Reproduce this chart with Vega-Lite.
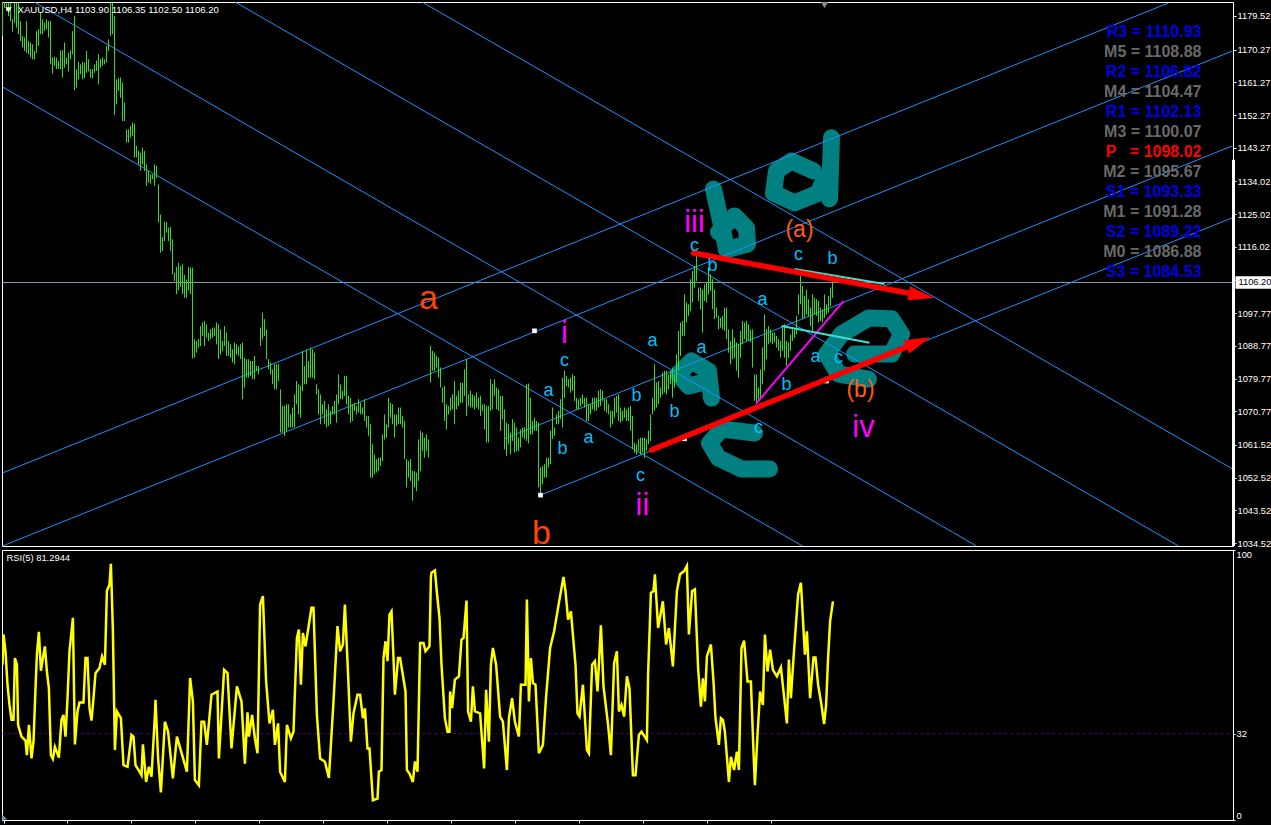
{"$schema":"https://vega.github.io/schema/vega-lite/v6.json","background":"#000000","padding":{"left":1,"top":1,"right":0,"bottom":0},"spacing":0,"config":{"view":{"stroke":"#ffffff","strokeWidth":1},"axis":{"grid":false,"title":null,"labelColor":"#ffffff","domain":false,"tickColor":"#ffffff","labelFont":"Liberation Sans","labelFontSize":9.3},"text":{"font":"Liberation Sans"}},
"datasets":{"bars":[
{"i":0,"p":1183.3,"l":1174},{"i":1,"p":1183.3,"l":1181.8},{"i":2,"p":1183.3,"l":1180.9},{"i":3,"p":1183.2,"l":1179.5},{"i":4,"p":1183.2,"l":1178.1},{"i":5,"p":1178.6,"l":1175.2},{"i":6,"p":1183.2,"l":1177.7},{"i":7,"p":1183.2,"l":1176.3},{"i":8,"p":1183.2,"l":1174.5},{"i":9,"p":1178.1,"l":1172.6},{"i":10,"p":1174,"l":1170.8},{"i":11,"p":1173.6,"l":1169.9},{"i":12,"p":1178.1,"l":1169.4},{"i":13,"p":1172.6,"l":1169},{"i":14,"p":1172.2,"l":1168.1},{"i":15,"p":1171.7,"l":1167.6},{"i":16,"p":1169.9,"l":1167.6},{"i":17,"p":1175.4,"l":1169.4},{"i":18,"p":1175.9,"l":1171.3},{"i":19,"p":1180.4,"l":1174.5},{"i":20,"p":1178.6,"l":1174.5},{"i":21,"p":1177.7,"l":1175.4},{"i":22,"p":1178.6,"l":1175.9},{"i":23,"p":1178.1,"l":1173.6},{"i":24,"p":1178.1,"l":1166.2},{"i":25,"p":1168.1,"l":1163.7},{"i":26,"p":1168.3,"l":1165.8},{"i":27,"p":1168.1,"l":1164.9},{"i":28,"p":1167.1,"l":1164.9},{"i":29,"p":1170.1,"l":1164.9},{"i":30,"p":1170.1,"l":1162.6},{"i":31,"p":1172.2,"l":1165.3},{"i":32,"p":1168.1,"l":1166.2},{"i":33,"p":1169.4,"l":1164.2},{"i":34,"p":1170.1,"l":1167.6},{"i":35,"p":1175.4,"l":1169},{"i":36,"p":1179.5,"l":1159.1},{"i":37,"p":1164.9,"l":1159.8},{"i":38,"p":1166.9,"l":1162.1},{"i":39,"p":1166.2,"l":1163.5},{"i":40,"p":1166.9,"l":1162.1},{"i":41,"p":1166.7,"l":1162.4},{"i":42,"p":1169.9,"l":1163.9},{"i":43,"p":1167.6,"l":1164.2},{"i":44,"p":1164.9,"l":1162.6},{"i":45,"p":1164.9,"l":1162.4},{"i":46,"p":1166.2,"l":1163.9},{"i":47,"p":1167.3,"l":1164.4},{"i":48,"p":1169,"l":1160.7},{"i":49,"p":1167.6,"l":1165.3},{"i":50,"p":1168.1,"l":1165.8},{"i":51,"p":1167.6,"l":1166.2},{"i":52,"p":1171.3,"l":1166.7},{"i":53,"p":1173.1,"l":1169.9},{"i":54,"p":1183.3,"l":1174},{"i":55,"p":1183.2,"l":1174.5},{"i":56,"p":1179.5,"l":1152.3},{"i":57,"p":1162.1,"l":1155.2},{"i":58,"p":1162.4,"l":1158.9},{"i":59,"p":1162.6,"l":1157},{"i":60,"p":1161.2,"l":1150.6},{"i":61,"p":1155.7,"l":1150.6},{"i":62,"p":1148.3,"l":1144.7},{"i":63,"p":1148.3,"l":1144.7},{"i":64,"p":1149.3,"l":1146.1},{"i":65,"p":1150.2,"l":1146.5},{"i":66,"p":1149.9,"l":1140.6},{"i":67,"p":1143.8,"l":1140.6},{"i":68,"p":1142.4,"l":1138.7},{"i":69,"p":1141.9,"l":1136.9},{"i":70,"p":1143.3,"l":1138.7},{"i":71,"p":1142.4,"l":1136.9},{"i":72,"p":1138.7,"l":1132.8},{"i":73,"p":1136.9,"l":1133.7},{"i":74,"p":1136,"l":1133.4},{"i":75,"p":1136,"l":1134.6},{"i":76,"p":1138.7,"l":1132.8},{"i":77,"p":1138.3,"l":1135},{"i":78,"p":1133.2,"l":1122.7},{"i":79,"p":1124.9,"l":1114.4},{"i":80,"p":1118.7,"l":1114.9},{"i":81,"p":1122.9,"l":1117.6},{"i":82,"p":1122.9,"l":1119.9},{"i":83,"p":1121.3,"l":1117.6},{"i":84,"p":1121.5,"l":1114.9},{"i":85,"p":1118.1,"l":1108.5},{"i":86,"p":1108.9,"l":1106.6},{"i":87,"p":1110.5,"l":1103},{"i":88,"p":1111.6,"l":1104},{"i":89,"p":1110.7,"l":1105},{"i":90,"p":1111.2,"l":1103},{"i":91,"p":1108.3,"l":1102},{"i":92,"p":1107,"l":1102},{"i":93,"p":1110.5,"l":1104},{"i":94,"p":1110.3,"l":1103},{"i":95,"p":1110.3,"l":1085.3},
{"i":96,"p":1090.6,"l":1085.5},{"i":97,"p":1090.1,"l":1086.9},{"i":98,"p":1090.6,"l":1088.3},{"i":99,"p":1094.2,"l":1088.7},{"i":100,"p":1095.2,"l":1091.5},{"i":101,"p":1095.6,"l":1088.7},{"i":102,"p":1094.7,"l":1091},{"i":103,"p":1092.4,"l":1090.1},{"i":104,"p":1093.3,"l":1090.6},{"i":105,"p":1093.8,"l":1091},{"i":106,"p":1093.8,"l":1091.5},{"i":107,"p":1095.2,"l":1089.2},{"i":108,"p":1094.7,"l":1085.1},{"i":109,"p":1093.3,"l":1086.4},{"i":110,"p":1090.1,"l":1087.4},{"i":111,"p":1094.2,"l":1088.7},{"i":112,"p":1092.4,"l":1086},{"i":113,"p":1090.1,"l":1086},{"i":114,"p":1089.2,"l":1085.5},{"i":115,"p":1087.8,"l":1084.2},{"i":116,"p":1089.7,"l":1083.7},{"i":117,"p":1089.2,"l":1086.4},{"i":118,"p":1088.7,"l":1086},{"i":119,"p":1089.2,"l":1085.1},{"i":120,"p":1089.7,"l":1074.1},{"i":121,"p":1085.5,"l":1077.3},{"i":122,"p":1085.1,"l":1080},{"i":123,"p":1085.1,"l":1080},{"i":124,"p":1084.6,"l":1080.5},{"i":125,"p":1084.6,"l":1079.6},{"i":126,"p":1086,"l":1079.6},{"i":127,"p":1083.2,"l":1081.9},{"i":128,"p":1083.2,"l":1080.9},{"i":129,"p":1093.8,"l":1088.7},{"i":130,"p":1097.9,"l":1090.6},{"i":131,"p":1096.1,"l":1091.5},{"i":132,"p":1093.3,"l":1085.1},{"i":133,"p":1085.1,"l":1082.3},{"i":134,"p":1084.2,"l":1080.9},{"i":135,"p":1082.3,"l":1078.2},{"i":136,"p":1083.7,"l":1076.8},{"i":137,"p":1083.7,"l":1076.8},{"i":138,"p":1083.7,"l":1079.1},{"i":139,"p":1076.8,"l":1064.9},{"i":140,"p":1072.2,"l":1064.9},{"i":141,"p":1072.2,"l":1064},{"i":142,"p":1072.7,"l":1065.3},{"i":143,"p":1072.7,"l":1066.3},{"i":144,"p":1069.9,"l":1066.3},{"i":145,"p":1071.8,"l":1066.3},{"i":146,"p":1075.4,"l":1066.3},{"i":147,"p":1079.1,"l":1072.7},{"i":148,"p":1078.2,"l":1069.9},{"i":149,"p":1077.7,"l":1069},{"i":150,"p":1087.4,"l":1076.4},{"i":151,"p":1083.2,"l":1078.2},{"i":152,"p":1087.8,"l":1078.2},{"i":153,"p":1084.6,"l":1080},{"i":154,"p":1088.3,"l":1080},{"i":155,"p":1087.8,"l":1080},{"i":156,"p":1086.9,"l":1079.6},{"i":157,"p":1078.2,"l":1075.4},{"i":158,"p":1076.8,"l":1069.9},{"i":159,"p":1075.4,"l":1067.2},{"i":160,"p":1072.7,"l":1069.9},{"i":161,"p":1073.6,"l":1067.2},{"i":162,"p":1071.3,"l":1066.3},{"i":163,"p":1072.7,"l":1066.7},{"i":164,"p":1070.9,"l":1067.2},{"i":165,"p":1072.2,"l":1069.9},{"i":166,"p":1073.6,"l":1069.9},{"i":167,"p":1075.4,"l":1067.6},{"i":168,"p":1080.9,"l":1072.7},{"i":169,"p":1078.2,"l":1074.1},{"i":170,"p":1076.4,"l":1074.1},{"i":171,"p":1080.5,"l":1075},{"i":172,"p":1080.5,"l":1072.7},{"i":173,"p":1075,"l":1069.9},{"i":174,"p":1074.5,"l":1067.6},{"i":175,"p":1072.7,"l":1068.1},{"i":176,"p":1073.1,"l":1070.9},{"i":177,"p":1072.2,"l":1069.9},{"i":178,"p":1074.1,"l":1070.4},{"i":179,"p":1073.1,"l":1069.9},{"i":180,"p":1071.8,"l":1069.9},{"i":181,"p":1074.1,"l":1068.1},{"i":182,"p":1069.5,"l":1066.3},{"i":183,"p":1069.5,"l":1064},{"i":184,"p":1067.2,"l":1052.5},{"i":185,"p":1061.7,"l":1052.5},{"i":186,"p":1058.9,"l":1053.4},{"i":187,"p":1057.6,"l":1053.9},{"i":188,"p":1058,"l":1054.3},{"i":189,"p":1058,"l":1055.7},{"i":190,"p":1064.4,"l":1057.1},{"i":191,"p":1069.9,"l":1063},{"i":192,"p":1067.2,"l":1063.5},{"i":193,"p":1074.5,"l":1066.3},{"i":194,"p":1073.1,"l":1069},{"i":195,"p":1072.7,"l":1067.2},{"i":196,"p":1069.9,"l":1063.5},{"i":197,"p":1069.9,"l":1066.7},{"i":198,"p":1071.8,"l":1067.2},{"i":199,"p":1071.8,"l":1067.2},{"i":200,"p":1069.5,"l":1066.3},{"i":201,"p":1068.1,"l":1057.6},{"i":202,"p":1057.6,"l":1049.8},{"i":203,"p":1057.1,"l":1052.5},{"i":204,"p":1057.6,"l":1051.6},{"i":205,"p":1054.3,"l":1046.1},{"i":206,"p":1054.3,"l":1049.8},{"i":207,"p":1053.9,"l":1048.8},{"i":208,"p":1063,"l":1051.6},{"i":209,"p":1065.4,"l":1054.3},{"i":210,"p":1064.9,"l":1059.8},{"i":211,"p":1063.5,"l":1058},{"i":212,"p":1064.4,"l":1059.8},{"i":213,"p":1063,"l":1058},{"i":214,"p":1088.7,"l":1078.7},{"i":215,"p":1087.4,"l":1081.9},{"i":216,"p":1086.9,"l":1081.9},{"i":217,"p":1086,"l":1082.8},{"i":218,"p":1085.5,"l":1080},{"i":219,"p":1082.8,"l":1077.3},{"i":220,"p":1077.3,"l":1073.1},{"i":221,"p":1077.7,"l":1068.1},{"i":222,"p":1072.7,"l":1065.8},{"i":223,"p":1072.2,"l":1069.9},{"i":224,"p":1074.5,"l":1070.9},{"i":225,"p":1075.4,"l":1071.3},{"i":226,"p":1079.1,"l":1067.2},{"i":227,"p":1075,"l":1071.3},{"i":228,"p":1076.4,"l":1072.2},{"i":229,"p":1078.6,"l":1073.1},{"i":230,"p":1078.6,"l":1073.1},{"i":231,"p":1082.3,"l":1075},{"i":232,"p":1085.1,"l":1069.5},{"i":233,"p":1075.4,"l":1072.2},{"i":234,"p":1076.4,"l":1071.8},{"i":235,"p":1075.4,"l":1071.8},{"i":236,"p":1075,"l":1071.3},{"i":237,"p":1075.9,"l":1071.8},{"i":238,"p":1074.5,"l":1071.3},{"i":239,"p":1075,"l":1069.5},{"i":240,"p":1072.7,"l":1070.9},{"i":241,"p":1072.7,"l":1065.8},{"i":242,"p":1072.2,"l":1062.2},{"i":243,"p":1072.2,"l":1062.2},{"i":244,"p":1079.6,"l":1070.9},{"i":245,"p":1078.2,"l":1071.3},{"i":246,"p":1079.6,"l":1075},{"i":247,"p":1077.3,"l":1071.3},{"i":248,"p":1076.8,"l":1070.9},{"i":249,"p":1075,"l":1065.4},{"i":250,"p":1075,"l":1068.6},{"i":251,"p":1071.3,"l":1060.3},{"i":252,"p":1067.6,"l":1058.5},{"i":253,"p":1067.2,"l":1061.7},{"i":254,"p":1064.9,"l":1058.9},{"i":255,"p":1068.6,"l":1062.6},{"i":256,"p":1067.6,"l":1059.4},{"i":257,"p":1066.3,"l":1059.8},{"i":258,"p":1063.5,"l":1059.8},{"i":259,"p":1065.8,"l":1060.8},
{"i":260,"p":1066.3,"l":1063.5},{"i":261,"p":1066.3,"l":1063.1},{"i":262,"p":1078.2,"l":1062.6},{"i":263,"p":1078.4,"l":1061.9},{"i":264,"p":1074.5,"l":1064.4},{"i":265,"p":1068.1,"l":1064.4},{"i":266,"p":1069,"l":1065.4},{"i":267,"p":1068.1,"l":1065.4},{"i":268,"p":1067.6,"l":1049.8},{"i":269,"p":1055.3,"l":1047.9},{"i":270,"p":1055.7,"l":1050.7},{"i":271,"p":1056.2,"l":1052.5},{"i":272,"p":1058,"l":1052.5},{"i":273,"p":1058,"l":1055.3},{"i":274,"p":1065.4,"l":1056.2},{"i":275,"p":1071.8,"l":1063.1},{"i":276,"p":1066.3,"l":1064},{"i":277,"p":1069.9,"l":1067.2},{"i":278,"p":1070.9,"l":1067.2},{"i":279,"p":1074.1,"l":1068.6},{"i":280,"p":1080,"l":1066.3},{"i":281,"p":1081.9,"l":1074.5},{"i":282,"p":1080.5,"l":1077.7},{"i":283,"p":1079.6,"l":1077.3},{"i":284,"p":1080,"l":1075.9},{"i":285,"p":1080.9,"l":1076.4},{"i":286,"p":1080.5,"l":1073.6},{"i":287,"p":1074.5,"l":1071.3},{"i":288,"p":1074.1,"l":1071.3},{"i":289,"p":1074.5,"l":1072.2},{"i":290,"p":1075.4,"l":1072.7},{"i":291,"p":1074.5,"l":1071.8},{"i":292,"p":1074.5,"l":1068.1},{"i":293,"p":1072.7,"l":1068.1},{"i":294,"p":1072.7,"l":1069.9},{"i":295,"p":1074.5,"l":1071.3},{"i":296,"p":1074.5,"l":1070.9},{"i":297,"p":1074.5,"l":1070.9},{"i":298,"p":1076.4,"l":1071.8},{"i":299,"p":1076.8,"l":1072.2},{"i":300,"p":1076.4,"l":1073.6},{"i":301,"p":1074.1,"l":1070.9},{"i":302,"p":1074.1,"l":1070.4},{"i":303,"p":1072.7,"l":1069.9},{"i":304,"p":1070.9,"l":1066.3},{"i":305,"p":1070.9,"l":1067.2},{"i":306,"p":1074.5,"l":1069},{"i":307,"p":1075,"l":1070.4},{"i":308,"p":1075.4,"l":1068.1},{"i":309,"p":1071.8,"l":1067.6},{"i":310,"p":1070.9,"l":1068.1},{"i":311,"p":1071.8,"l":1069},{"i":312,"p":1071.3,"l":1068.1},{"i":313,"p":1071.8,"l":1068.1},{"i":314,"p":1072.2,"l":1065.4},{"i":315,"p":1069.5,"l":1060.3},{"i":316,"p":1062.1,"l":1059.4},{"i":317,"p":1061.7,"l":1058.9},{"i":318,"p":1063.1,"l":1059.9},{"i":319,"p":1063.5,"l":1058.9},{"i":320,"p":1063.5,"l":1059.4},{"i":321,"p":1063.5,"l":1058},{"i":322,"p":1063.1,"l":1059.9},{"i":323,"p":1065.4,"l":1061.7},{"i":324,"p":1069.9,"l":1062.6},{"i":325,"p":1074.5,"l":1069.9},{"i":326,"p":1083.7,"l":1070.9},{"i":327,"p":1078.7,"l":1071.8},{"i":328,"p":1079.1,"l":1072.7},{"i":329,"p":1077.3,"l":1074.5},{"i":330,"p":1081.4,"l":1075.4},{"i":331,"p":1081.9,"l":1075.9},{"i":332,"p":1081.9,"l":1075.4},{"i":333,"p":1080.9,"l":1076.8},{"i":334,"p":1081.9,"l":1078.2},{"i":335,"p":1082.8,"l":1074.5},{"i":336,"p":1080.9,"l":1077.3},{"i":337,"p":1086.4,"l":1078.7},{"i":338,"p":1092.9,"l":1081.9},{"i":339,"p":1095.2,"l":1086},{"i":340,"p":1095.6,"l":1091.5},{"i":341,"p":1102.9,"l":1091.5},{"i":342,"p":1100.7,"l":1095.2},{"i":343,"p":1100.2,"l":1097},{"i":344,"p":1107.1,"l":1098.4},{"i":345,"p":1109.4,"l":1100.7},{"i":346,"p":1110.7,"l":1104.8},{"i":347,"p":1113.5,"l":1106.6},{"i":348,"p":1104.8,"l":1101.1},{"i":349,"p":1104.8,"l":1098.8},{"i":350,"p":1104.3,"l":1092.4},{"i":351,"p":1105.7,"l":1101.1},{"i":352,"p":1106.2,"l":1100.7},{"i":353,"p":1110.3,"l":1102.9},{"i":354,"p":1108.5,"l":1103.9},{"i":355,"p":1107.1,"l":1098.8},{"i":356,"p":1104.3,"l":1096.1},{"i":357,"p":1099.3,"l":1096.5},{"i":358,"p":1097,"l":1093.3},{"i":359,"p":1096.5,"l":1093.8},{"i":360,"p":1097,"l":1093.3},{"i":361,"p":1099.3,"l":1092.9},{"i":362,"p":1099.3,"l":1090.6},{"i":363,"p":1093.3,"l":1086.9},{"i":364,"p":1090.1,"l":1083.7},{"i":365,"p":1093.3,"l":1085.1},{"i":366,"p":1091,"l":1085.5},{"i":367,"p":1089.7,"l":1081.9},{"i":368,"p":1089.2,"l":1080},{"i":369,"p":1092.9,"l":1085.5},{"i":370,"p":1095.6,"l":1089.2},{"i":371,"p":1095.2,"l":1090.6},{"i":372,"p":1095.6,"l":1090.1},{"i":373,"p":1094.7,"l":1090.1},{"i":374,"p":1093.3,"l":1089.7},{"i":375,"p":1093.3,"l":1082.8},{"i":376,"p":1080.9,"l":1073.6},{"i":377,"p":1080.9,"l":1072.7},{"i":378,"p":1077.3,"l":1074.1},{"i":379,"p":1082.3,"l":1074.5},{"i":380,"p":1088.3,"l":1078.2},{"i":381,"p":1097.4,"l":1081.9},{"i":382,"p":1093.3,"l":1085.1},{"i":383,"p":1094.2,"l":1089.2},{"i":384,"p":1093.3,"l":1089.7},{"i":385,"p":1092.4,"l":1089.2},{"i":386,"p":1092.4,"l":1089.7},{"i":387,"p":1091.5,"l":1088.3},{"i":388,"p":1090.6,"l":1087.4},{"i":389,"p":1090.1,"l":1085.5},{"i":390,"p":1094.2,"l":1087.4},{"i":391,"p":1094.7,"l":1085.5},{"i":392,"p":1090.1,"l":1083.2},{"i":393,"p":1089.7,"l":1085.5},{"i":394,"p":1091.9,"l":1087.4},{"i":395,"p":1093.3,"l":1090.1},{"i":396,"p":1093.3,"l":1091},{"i":397,"p":1097,"l":1091.9},{"i":398,"p":1102.9,"l":1097.4},{"i":399,"p":1108,"l":1100.2},{"i":400,"p":1105.2,"l":1096.1},{"i":401,"p":1102.5,"l":1096.5},{"i":402,"p":1104.3,"l":1097.4},{"i":403,"p":1101.6,"l":1097},{"i":404,"p":1099.3,"l":1094.2},{"i":405,"p":1102.9,"l":1092.9},{"i":406,"p":1102,"l":1097.4},{"i":407,"p":1101.6,"l":1097},{"i":408,"p":1101.1,"l":1095.2},{"i":409,"p":1099.3,"l":1095.6},{"i":410,"p":1098.8,"l":1095.2},{"i":411,"p":1102.9,"l":1096.5},{"i":412,"p":1100.2,"l":1097.4},{"i":413,"p":1102.5,"l":1097.9},{"i":414,"p":1104.8,"l":1099.7},{"i":415,"p":1106.6,"l":1102}
]},
"vconcat":[
{"width":1231,"height":544,
"encoding":{"x":{"field":"i","type":"quantitative","scale":{"domain":[-0.25,615.25],"nice":false,"zero":false},"axis":null},"y":{"field":"p","type":"quantitative","scale":{"domain":[1033.7,1183.37],"nice":false,"zero":false},"axis":{"orient":"right","values":[1179.52,1170.27,1161.27,1152.27,1143.27,1134.02,1125.02,1116.02,1106.77,1097.77,1088.77,1079.77,1070.77,1061.52,1052.52,1043.52,1034.52],"format":".2f","tickSize":3,"labelPadding":1}},"text":{"field":"t"}},
"layer":[
{"data":{"values":[
{"s":"d1","o":1,"i":414.5,"p":1146},{"s":"d1","o":2,"i":413.5,"p":1129.2},
{"s":"d2","o":1,"i":405.5,"p":1136.9},{"s":"d2","o":2,"i":394.5,"p":1139.6},{"s":"d2","o":3,"i":387,"p":1136.9},{"s":"d2","o":4,"i":385.5,"p":1130.8},{"s":"d2","o":5,"i":396,"p":1128.1},{"s":"d2","o":6,"i":408,"p":1130.8},{"s":"d2","o":7,"i":411,"p":1135},
{"s":"b1","o":1,"i":355.5,"p":1131.9},{"s":"b1","o":2,"i":358.5,"p":1124.5},{"s":"b1","o":3,"i":362,"p":1115.4},
{"s":"b2","o":1,"i":358,"p":1120.1},{"s":"b2","o":2,"i":366,"p":1124.5},{"s":"b2","o":3,"i":372,"p":1121.2},{"s":"b2","o":4,"i":372.5,"p":1116.8},{"s":"b2","o":5,"i":362,"p":1115.2},
{"s":"a","o":1,"i":353,"p":1079.1},{"s":"a","o":2,"i":343,"p":1077.7},{"s":"a","o":3,"i":338,"p":1081},{"s":"a","o":4,"i":344.5,"p":1084.6},{"s":"a","o":5,"i":353,"p":1081.9},{"s":"a","o":6,"i":354.5,"p":1074.4},
{"s":"c","o":1,"i":376,"p":1064.8},{"s":"c","o":2,"i":359.5,"p":1065.9},{"s":"c","o":3,"i":353.5,"p":1062},{"s":"c","o":4,"i":358,"p":1057.9},{"s":"c","o":5,"i":369.5,"p":1054.9},{"s":"c","o":6,"i":383.5,"p":1054.9},
{"s":"e","o":1,"i":426,"p":1086.5},{"s":"e","o":2,"i":444.5,"p":1086.5},{"s":"e","o":3,"i":449.5,"p":1092},{"s":"e","o":4,"i":444.5,"p":1096.2},{"s":"e","o":5,"i":433,"p":1096.4},{"s":"e","o":6,"i":419.5,"p":1092},{"s":"e","o":7,"i":412,"p":1086.5},{"s":"e","o":8,"i":418,"p":1081},{"s":"e","o":9,"i":433,"p":1079.6}
]},"mark":{"type":"line","color":"#008080","strokeWidth":17,"strokeCap":"round","strokeJoin":"round","clip":true},"encoding":{"detail":{"field":"s"},"order":{"field":"o","type":"quantitative"}}},
{"data":{"values":[{"i":0,"e":615.25,"p":1106.2}]},"mark":{"type":"rule","color":"#8899aa","strokeWidth":1,"clip":true},"encoding":{"x2":{"field":"e"}}},
{"data":{"values":[
{"s":"LA","i":0,"p":1053.8},{"s":"LA","i":583,"p":1183.1},{"s":"LB","i":0,"p":1033.7},{"s":"LB","i":615,"p":1169.9},{"s":"LC","i":251,"p":1063.2},{"s":"LC","i":615,"p":1143.8},{"s":"LD","i":269,"p":1047.7},{"s":"LD","i":615,"p":1124},
{"s":"DA","i":0,"p":1160},{"s":"DA","i":400,"p":1033.7},{"s":"DB","i":16,"p":1183.3},{"s":"DB","i":487,"p":1033.7},{"s":"DC","i":116.5,"p":1183.3},{"s":"DC","i":588,"p":1033.7},{"s":"DD","i":210,"p":1183.3},{"s":"DD","i":615,"p":1054.9}
]},"mark":{"type":"line","color":"#1e90ff","strokeWidth":1,"clip":true},"encoding":{"detail":{"field":"s"}}},
{"data":{"name":"bars"},"mark":{"type":"rule","color":"#33dd22","strokeWidth":1,"clip":true},"encoding":{"y2":{"field":"l"}}},
{"data":{"values":[{"i":615.5,"p":1140,"l":1033.7}]},"mark":{"type":"rule","color":"#ffffff","strokeWidth":3},"encoding":{"y2":{"field":"l"}}},
{"data":{"values":[{"s":"m","i":377,"p":1073},{"s":"m","i":420.5,"p":1101.1}]},"mark":{"type":"line","color":"#ff00ff","strokeWidth":2}},
{"data":{"values":[{"s":"a1","i":389.5,"p":1094.2},{"s":"a1","i":433.5,"p":1089.6},{"s":"a2","i":396,"p":1109.9},{"s":"a2","i":441,"p":1105.8}]},"mark":{"type":"line","color":"#40e0d0","strokeWidth":2},"encoding":{"detail":{"field":"s"}}},
{"data":{"values":[{"i":266,"p":1092.9},{"i":269,"p":1047.7},{"i":341,"p":1063.2},{"i":412,"p":1079.1}]},"mark":{"type":"point","shape":"square","filled":true,"color":"#ffffff","size":22,"opacity":1}},
{"data":{"values":[{"s":"r1","i":345.5,"p":1114.3},{"s":"r1","i":459.5,"p":1102.6},{"s":"r2","i":324.5,"p":1060.1},{"s":"r2","i":458,"p":1089.8}]},"mark":{"type":"line","color":"#ff0000","strokeWidth":5.5,"strokeCap":"round"},"encoding":{"detail":{"field":"s"}}},
{"data":{"values":[{"i":459.5,"p":1102.6}]},"mark":{"type":"point","shape":"M0,-1L0.55,1L-0.55,1Z","filled":true,"color":"#ff0000","size":676,"opacity":1,"angle":100.4}},
{"data":{"values":[{"i":458,"p":1089.8}]},"mark":{"type":"point","shape":"M0,-1L0.55,1L-0.55,1Z","filled":true,"color":"#ff0000","size":676,"opacity":1,"angle":68}},
{"data":{"values":[{"i":3,"p":1181.2}]},"mark":{"type":"point","shape":"triangle-down","filled":true,"color":"#ffffff","size":40,"opacity":1,"clip":true}},
{"data":{"values":[{"i":411,"p":1182.6}]},"mark":{"type":"point","shape":"triangle-down","filled":true,"color":"#8a8a8a","size":60,"opacity":1,"clip":true}},
{"data":{"values":[
{"t":"a","i":273,"p":1076.3},{"t":"b","i":280,"p":1060.4},{"t":"c","i":281,"p":1084.6},{"t":"a","i":293,"p":1063.4},{"t":"b","i":317,"p":1075},{"t":"c","i":319,"p":1053},{"t":"a","i":325,"p":1090.1},{"t":"b","i":336,"p":1070.6},{"t":"a","i":349.5,"p":1088.2},{"t":"c","i":346,"p":1116.2},{"t":"b","i":355,"p":1110.8},{"t":"a","i":380,"p":1101.4},{"t":"c","i":378,"p":1066.2},{"t":"b","i":392,"p":1078},{"t":"a","i":406.5,"p":1085.7},{"t":"c","i":418,"p":1085.4},{"t":"c","i":398,"p":1113.8},{"t":"b","i":415,"p":1112.7}
]},"mark":{"type":"text","color":"#00bfff","fontSize":18}},
{"data":{"values":[{"t":"i","i":281,"p":1092},{"t":"iii","i":346,"p":1122.6},{"t":"ii","i":320,"p":1044.7},{"t":"iv","i":430.5,"p":1066.2}]},"mark":{"type":"text","color":"#ff00ff","fontSize":31}},
{"data":{"values":[{"t":"a","i":213,"p":1101.7},{"t":"b","i":269.5,"p":1037}]},"mark":{"type":"text","color":"#ff4500","fontSize":34,"clip":true}},
{"data":{"values":[{"t":"(a)","i":398.5,"p":1120.6},{"t":"(b)","i":429,"p":1076.6}]},"mark":{"type":"text","color":"#ff5a14","fontSize":23}},
{"data":{"values":[
{"t":"R3 = 1110.93","k":"b","i":599.5,"p":1175.1},{"t":"M5 = 1108.88","k":"g","i":599.5,"p":1169.6},{"t":"R2 = 1106.82","k":"b","i":599.5,"p":1164.1},{"t":"M4 = 1104.47","k":"g","i":599.5,"p":1158.6},{"t":"R1 = 1102.13","k":"b","i":599.5,"p":1153.1},{"t":"M3 = 1100.07","k":"g","i":599.5,"p":1147.6},{"t":"P\u00a0\u00a0\u00a0= 1098.02","k":"r","i":599.5,"p":1142.1},{"t":"M2 = 1095.67","k":"g","i":599.5,"p":1136.6},{"t":"S1 = 1093.33","k":"b","i":599.5,"p":1131.1},{"t":"M1 = 1091.28","k":"g","i":599.5,"p":1125.6},{"t":"S2 = 1089.22","k":"b","i":599.5,"p":1120.1},{"t":"M0 = 1086.88","k":"g","i":599.5,"p":1114.6},{"t":"S3 = 1084.53","k":"b","i":599.5,"p":1109.1}
]},"mark":{"type":"text","align":"right","fontSize":16,"fontWeight":"bold"},"encoding":{"color":{"field":"k","type":"nominal","legend":null,"scale":{"domain":["b","g","r"],"range":["#0000e6","#696969","#ff0000"]}}}},
{"data":{"values":[{"t":"XAUUSD,H4  1103.90 1106.35 1102.50 1106.20","i":7.5,"p":1181.2}]},"mark":{"type":"text","align":"left","color":"#ffffff","fontSize":9.6}},
{"data":{"values":[{"i":616.5,"e":635,"p":1107.9,"l":1104.5}]},"mark":{"type":"rect","color":"#ffffff"},"encoding":{"x2":{"field":"e"},"y2":{"field":"l"}}},
{"data":{"values":[{"t":"1106.20","i":618,"p":1106.2}]},"mark":{"type":"text","align":"left","color":"#000000","font":"Liberation Sans","fontSize":9.3}}
]},
{"width":1231,"height":270,
"data":{"values":[{"i":0,"r":57.5},{"i":0.5,"r":68.7},{"i":1.5,"r":62.5},{"i":2.5,"r":50.1},{"i":3.5,"r":42.6},{"i":4.5,"r":37.1},{"i":5.5,"r":37.1},{"i":6.2,"r":60},{"i":7.2,"r":57.5},{"i":7.8,"r":35.2},{"i":9.5,"r":30.9},{"i":11.5,"r":29.4},{"i":12.2,"r":24},{"i":13.2,"r":35.2},{"i":14.5,"r":22.8},{"i":15.5,"r":29},{"i":16.5,"r":48.8},{"i":17.2,"r":61.2},{"i":18.2,"r":69.7},{"i":19.2,"r":55.3},{"i":20.2,"r":60},{"i":21.2,"r":64.3},{"i":22.2,"r":55},{"i":23.2,"r":48.8},{"i":24.2,"r":24},{"i":25.2,"r":22.6},{"i":26.2,"r":27.1},{"i":28.2,"r":23.1},{"i":29.5,"r":37.1},{"i":30.5,"r":38.9},{"i":31.5,"r":30.9},{"i":32.5,"r":45.1},{"i":33.5,"r":62.5},{"i":35.2,"r":74.9},{"i":36.2,"r":28},{"i":37.5,"r":40.2},{"i":38.5,"r":43.5},{"i":40.5,"r":43.5},{"i":41.5,"r":60},{"i":42.5,"r":60},{"i":43.5,"r":41.4},{"i":44.5,"r":36.8},{"i":45.5,"r":45.1},{"i":46.5,"r":54.4},{"i":48.5,"r":56.3},{"i":49.8,"r":60.6},{"i":51.2,"r":57.5},{"i":52.2,"r":84.8},{"i":53.5,"r":87.2},{"i":54.2,"r":94.9},{"i":55.2,"r":69.9},{"i":56.2,"r":25.9},{"i":57.2,"r":40.2},{"i":59.2,"r":37.7},{"i":60.5,"r":20.3},{"i":62.5,"r":19.7},{"i":64.5,"r":31.5},{"i":65.5,"r":30.9},{"i":66.5,"r":20.3},{"i":68.5,"r":17.9},{"i":69.5,"r":16.6},{"i":70.2,"r":28},{"i":71.8,"r":14.1},{"i":73.2,"r":19.7},{"i":74.5,"r":16},{"i":76.2,"r":38.9},{"i":76.5,"r":44.5},{"i":77.8,"r":22.8},{"i":79.2,"r":10.2},{"i":81.2,"r":36.4},{"i":82.8,"r":32.7},{"i":85.2,"r":15.4},{"i":87.2,"r":30.9},{"i":92.2,"r":17.9},{"i":93.8,"r":52.6},{"i":95.2,"r":43.9},{"i":96.2,"r":14.8},{"i":98.2,"r":12.9},{"i":99.5,"r":36.4},{"i":100.8,"r":36.4},{"i":102.2,"r":27.8},{"i":104.5,"r":46.4},{"i":107.5,"r":47.6},{"i":108.2,"r":22.8},{"i":110.8,"r":55.6},{"i":112.5,"r":54.4},{"i":114.5,"r":26.5},{"i":117.2,"r":49.5},{"i":119.5,"r":43.9},{"i":121.2,"r":20.9},{"i":122.5,"r":39.9},{"i":123.2,"r":30.9},{"i":124.8,"r":38.9},{"i":126.2,"r":30.2},{"i":127.5,"r":24.7},{"i":128.8,"r":79.8},{"i":130.2,"r":82.9},{"i":131.8,"r":51.3},{"i":133.5,"r":35.8},{"i":135.2,"r":40.8},{"i":136.2,"r":27.8},{"i":137.8,"r":35.8},{"i":138.8,"r":17.9},{"i":141.2,"r":14.1},{"i":142.2,"r":35.2},{"i":144.2,"r":30.2},{"i":145.5,"r":32.7},{"i":147.2,"r":67.4},{"i":148.2,"r":70.5},{"i":149.2,"r":50.1},{"i":150.2,"r":69.3},{"i":151.5,"r":64.3},{"i":154.5,"r":78.6},{"i":155.5,"r":78.6},{"i":157.2,"r":38.9},{"i":158.8,"r":22.8},{"i":161.2,"r":21.6},{"i":163.2,"r":15.6},{"i":165.5,"r":43.9},{"i":167.5,"r":71.8},{"i":168.8,"r":62.5},{"i":170.2,"r":65},{"i":171.2,"r":79.8},{"i":172.8,"r":53.8},{"i":174.2,"r":29},{"i":175.5,"r":39.5},{"i":177.5,"r":46.4},{"i":178.8,"r":46.4},{"i":180.2,"r":37.7},{"i":181.2,"r":41.4},{"i":182.5,"r":26.5},{"i":183.5,"r":26.5},{"i":185.2,"r":7.3},{"i":187.5,"r":7.9},{"i":188.2,"r":17.9},{"i":189.5,"r":18.5},{"i":190.5,"r":60},{"i":191.5,"r":66.2},{"i":192.5,"r":58.8},{"i":193.5,"r":76.1},{"i":194.5,"r":77.3},{"i":195.5,"r":60},{"i":196.2,"r":46.4},{"i":197.8,"r":60},{"i":198.8,"r":60},{"i":201.5,"r":47.6},{"i":202.2,"r":18.5},{"i":203.5,"r":17.2},{"i":205.2,"r":14.1},{"i":206.2,"r":21.6},{"i":207.5,"r":17.9},{"i":208.8,"r":65.6},{"i":210.5,"r":65.6},{"i":211.5,"r":62.5},{"i":213.5,"r":64.3},{"i":214.2,"r":89.7},{"i":214.5,"r":91.6},{"i":216.2,"r":92.4},{"i":217.2,"r":84.1},{"i":218.5,"r":74.9},{"i":219.5,"r":57.5},{"i":221.2,"r":37.7},{"i":222.5,"r":32.7},{"i":223.5,"r":32.7},{"i":223.8,"r":47.6},{"i":224.8,"r":41.4},{"i":226.2,"r":52},{"i":228.2,"r":53.2},{"i":229.5,"r":66.8},{"i":230.5,"r":67.4},{"i":232,"r":81.3},{"i":232.8,"r":40.2},{"i":234.2,"r":36.4},{"i":235.2,"r":49.5},{"i":236.2,"r":40.2},{"i":238.8,"r":39.5},{"i":240.8,"r":19.1},{"i":241.8,"r":48.2},{"i":243.2,"r":29},{"i":244.2,"r":57.5},{"i":245.2,"r":63.7},{"i":246.8,"r":57.5},{"i":248.8,"r":38.3},{"i":250.2,"r":36.4},{"i":252.2,"r":18.5},{"i":253.2,"r":37.7},{"i":254.8,"r":45.1},{"i":256.2,"r":36.4},{"i":258.2,"r":30.9},{"i":259.2,"r":50.1},{"i":261.5,"r":50.1},{"i":262.2,"r":81.7},{"i":263.2,"r":43.9},{"i":264.2,"r":60},{"i":265.2,"r":50.7},{"i":266.5,"r":50.1},{"i":268.2,"r":24.7},{"i":270.2,"r":27.8},{"i":271.8,"r":45.7},{"i":273.8,"r":63.7},{"i":275.8,"r":69.9},{"i":278.5,"r":81.7},{"i":280.5,"r":90},{"i":281.5,"r":84.8},{"i":282.8,"r":74.2},{"i":284.2,"r":77.3},{"i":286.5,"r":57.5},{"i":287.5,"r":39.5},{"i":288.5,"r":38.3},{"i":290.2,"r":50.1},{"i":292.2,"r":25.9},{"i":293.2,"r":24.7},{"i":294.8,"r":57.5},{"i":296.2,"r":58.8},{"i":297.5,"r":47.6},{"i":299.2,"r":72.1},{"i":300.5,"r":49.5},{"i":302.8,"r":35.2},{"i":304.2,"r":24},{"i":305.8,"r":58.1},{"i":307.2,"r":62.5},{"i":308.2,"r":40.2},{"i":309.5,"r":42.6},{"i":310.8,"r":38.3},{"i":312.2,"r":53.2},{"i":313.5,"r":48.8},{"i":315.2,"r":16.6},{"i":316.5,"r":16.6},{"i":318.2,"r":31.5},{"i":319.5,"r":32.7},{"i":322.2,"r":29.6},{"i":322.8,"r":53.8},{"i":324.2,"r":84.1},{"i":325.5,"r":84.8},{"i":326.2,"r":91},{"i":327.8,"r":71.1},{"i":330.2,"r":81},{"i":331.8,"r":65},{"i":333.2,"r":71.1},{"i":335.2,"r":56.9},{"i":337.2,"r":84.8},{"i":338.8,"r":91},{"i":340.8,"r":92.2},{"i":342.2,"r":94.1},{"i":343.2,"r":68.7},{"i":344.8,"r":84.8},{"i":346.2,"r":85.4},{"i":347.8,"r":56.3},{"i":349.2,"r":42},{"i":350.2,"r":52.5},{"i":351.2,"r":43.9},{"i":352.2,"r":60.6},{"i":354.2,"r":65},{"i":355.5,"r":51.3},{"i":356.5,"r":37.7},{"i":358.2,"r":27.8},{"i":359.2,"r":37.7},{"i":360.2,"r":37.1},{"i":361.2,"r":32.7},{"i":363.2,"r":14.1},{"i":364.2,"r":23.4},{"i":365.8,"r":18.5},{"i":367.2,"r":25.3},{"i":368.2,"r":18.5},{"i":369.5,"r":63.7},{"i":370.8,"r":66.4},{"i":372.5,"r":51.3},{"i":374.2,"r":51.3},{"i":375.5,"r":25.3},{"i":376.2,"r":12.9},{"i":377.5,"r":31.5},{"i":378.8,"r":47.6},{"i":380.2,"r":42.6},{"i":381.2,"r":68.7},{"i":382.5,"r":55},{"i":383.8,"r":63.1},{"i":385.2,"r":55.6},{"i":387.2,"r":53.2},{"i":389.2,"r":56.5},{"i":390.5,"r":47.6},{"i":392.2,"r":35.8},{"i":393.2,"r":59.4},{"i":394.2,"r":45.1},{"i":395.5,"r":60},{"i":397.8,"r":83.5},{"i":399.2,"r":87.9},{"i":401.2,"r":61.2},{"i":402.2,"r":69.9},{"i":403.8,"r":45.1},{"i":405.5,"r":60.2},{"i":406.5,"r":60.2},{"i":407.8,"r":50.1},{"i":409.5,"r":42.6},{"i":410.8,"r":35.5},{"i":411.8,"r":42.6},{"i":412.8,"r":60},{"i":413.8,"r":73.6},{"i":415.2,"r":81}]},
"encoding":{"x":{"field":"i","type":"quantitative","scale":{"domain":[-0.25,615.25],"nice":false,"zero":false},"axis":{"orient":"bottom","values":[0.5,32,64,96,128,160,192,224,256,288,320,352,384],"tickSize":3,"labelAlign":"left","labelBaseline":"top","labelPadding":1,"labelFlush":false,"labelFont":"Liberation Sans","labelFontSize":10,"labelOverlap":false,"labelExpr":"['15 Oct 2015','20 Oct 16:00','26 Oct 00:00','29 Oct 08:00','3 Nov 16:00','9 Nov 00:00','12 Nov 08:00','17 Nov 16:00','23 Nov 00:00','26 Nov 08:00','1 Dec 16:00','7 Dec 00:00','10 Dec 08:00'][round(datum.value/32)]"}},"y":{"field":"r","type":"quantitative","scale":{"domain":[0,100],"nice":false},"axis":{"orient":"right","values":[100,32,0],"tickSize":2,"labelPadding":1,"labelBaseline":{"condition":[{"test":"datum.value==100","value":"top"},{"test":"datum.value==0","value":"bottom"}],"value":"middle"}}}},
"layer":[
{"data":{"values":[{"i":0,"e":615.25,"r":32}]},"mark":{"type":"rule","color":"#4b0082","strokeWidth":1,"strokeDash":[3,3],"clip":true},"encoding":{"x2":{"field":"e"}}},
{"mark":{"type":"line","color":"#ffff00","strokeWidth":2.5,"clip":true}},
{"data":{"values":[{"t":"RSI(5) 81.2944","i":2,"r":97}]},"mark":{"type":"text","align":"left","color":"#ffffff","fontSize":9.4,"font":"Liberation Sans"},"encoding":{"text":{"field":"t"}}},
{"data":{"values":[{"i":1,"r":1.2}]},"mark":{"type":"point","shape":"M-1,-1L1,1L-1,1Z","filled":true,"color":"#8899aa","size":30,"opacity":1,"clip":true}}
]}
],
"resolve":{"scale":{"x":"independent","y":"independent"}}
}
